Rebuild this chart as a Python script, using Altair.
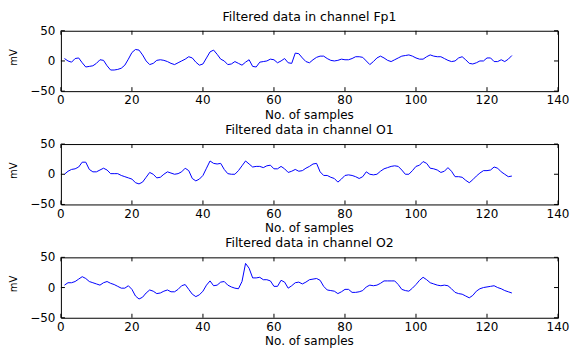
import altair as alt
import pandas as pd

samples = list(range(1, 128))

fp1 = [4, 0, -2, 4, 5, -3, -10, -9, -8, -4, 2, 1, -8, -15, -15, -14, -12, -7, 3, 14,
       19, 18, 10, 0, -6, -4, 1, 2, 1, -1, -4, -6, -3, 0, 3, 7, 5, -2, -7, -5,
       5, 15, 18, 11, 3, 0, -6, -5, -1, -4, -7, -2, 2, -9, -10, -2, -1, 0, 3, 2,
       -3, 0, 4, -3, -4, 13, 12, 5, -1, -3, 2, 6, 8, 8, 4, 1, 0, 1, 3, 2,
       2, 4, 7, 7, 6, 0, -6, -1, 5, 8, 5, 1, -1, 2, 5, 8, 9, 10, 8, 5,
       3, 3, 7, 10, 8, 7, 7, 4, 1, -1, 0, 5, 7, 2, -4, -5, -3, 0, 0, 5,
       5, -1, -1, 2, -1, 3, 9]

o1 = [0, 5, 8, 9, 12, 20, 20, 8, 4, 4, 7, 10, 7, 1, 1, 1, -2, -4, -6, -8,
      -14, -16, -13, -5, 3, 0, -6, -5, 0, 4, 2, 0, 1, 4, 10, 6, -7, -11, -8, -2,
      10, 22, 18, 17, 18, 8, 1, 0, 0, 6, 14, 22, 17, 12, 13, 13, 11, 14, 15, 9,
      9, 13, 9, 3, 5, 8, 5, 6, 10, 13, 17, 18, 4, -2, -2, -5, -7, -13, -8, -2,
      -1, -2, -4, -7, -4, 4, 0, -1, 0, 5, 9, 11, 13, 14, 13, 7, 0, 0, 6, 13,
      15, 21, 18, 10, 9, 7, 3, 5, 11, 5, -4, -4, -5, -10, -14, -9, -3, 2, 6, 6,
      7, 12, 10, 4, 0, -4, -3]

o2 = [4, 8, 8, 10, 14, 18, 15, 10, 8, 6, 4, 8, 10, 7, 5, 2, -1, -1, 3, -3,
      -14, -19, -16, -9, -4, -6, -10, -9, -6, -4, -7, -7, -3, 3, 5, -3, -11, -15, -12, -6,
      4, 11, 3, 4, 9, 10, 4, 1, -1, -2, 10, 40, 32, 16, 16, 17, 13, 13, 11, 2,
      2, 12, 9, -1, 3, 8, 9, 6, 9, 13, 14, 15, 12, 2, -4, -5, -6, -10, -7, -3,
      -3, -8, -8, -7, -5, 1, 4, 3, 4, 7, 11, 11, 11, 11, 5, -3, -5, -6, -1, 5,
      12, 17, 13, 8, 6, 4, 3, 4, 3, -2, -8, -10, -11, -14, -17, -13, -6, -2, 0, 1,
      2, 3, 0, -2, -5, -7, -9]

channels = ["Fp1", "O1", "O2"]
x_ticks = [0, 20, 40, 60, 80, 100, 120, 140]
x_tick_labels = ["0", "20", "40", "60", "80", "100", "120", "140"]
y_ticks = [-50, 0, 50]
y_tick_labels = ["\u221250", "0", "50"]
x_title = "No. of samples"
y_title = "mV"

W, H = 498, 60.5
FONT = "DejaVu Sans"
TL = 4


def panel(name, values):
    df = pd.DataFrame({"n": samples, "v": values})
    xs = alt.Scale(domain=[0, 140], nice=False, zero=False)
    ys = alt.Scale(domain=[-50, 50], nice=False)
    X = lambda: alt.X("n:Q", scale=xs, axis=None)
    Y = lambda: alt.Y("v:Q", scale=ys, axis=None)

    line = alt.Chart(df).mark_line(color="#0000ff", strokeWidth=1).encode(x=X(), y=Y())

    tx = pd.DataFrame({"n": x_ticks, "lab": x_tick_labels})
    ty = pd.DataFrame({"v": y_ticks, "lab": y_tick_labels})
    rule = dict(color="black", strokeWidth=1)
    bottom = alt.Chart(tx).mark_rule(**rule).encode(x=X(), y=alt.value(H), y2=alt.value(H - TL))
    top = alt.Chart(tx).mark_rule(**rule).encode(x=X(), y=alt.value(0), y2=alt.value(TL))
    left = alt.Chart(ty).mark_rule(**rule).encode(y=Y(), x=alt.value(0), x2=alt.value(TL))
    right = alt.Chart(ty).mark_rule(**rule).encode(y=Y(), x=alt.value(W), x2=alt.value(W - TL))

    xlab = alt.Chart(tx).mark_text(font=FONT, fontSize=12, color="black", align="center",
                                   baseline="alphabetic").encode(
        x=X(), y=alt.value(H + 13.3), text="lab:N")
    ylab = alt.Chart(ty).mark_text(font=FONT, fontSize=12, color="black", align="right",
                                   baseline="middle").encode(
        y=Y(), x=alt.value(-5.5), text="lab:N")

    ttl = alt.Chart(pd.DataFrame({"t": [f"Filtered data in channel {name}"]})).mark_text(
        font=FONT, fontSize=12.5, color="black", align="center", baseline="alphabetic").encode(
        x=alt.value(W / 2), y=alt.value(-10), text="t:N")
    xt = alt.Chart(pd.DataFrame({"t": [x_title]})).mark_text(
        font=FONT, fontSize=12, color="black", align="center", baseline="alphabetic").encode(
        x=alt.value(W / 2), y=alt.value(H + 27.5), text="t:N")
    yt = alt.Chart(pd.DataFrame({"t": [y_title]})).mark_text(
        font=FONT, fontSize=10, color="black", align="center", baseline="alphabetic",
        angle=270).encode(
        x=alt.value(-43.7), y=alt.value(H / 2 - 3.5), text="t:N")

    return alt.layer(line, bottom, top, left, right, xlab, ylab, ttl, xt, yt).properties(
        width=W, height=H)


chart = alt.vconcat(
    panel(channels[0], fp1),
    panel(channels[1], o1),
    panel(channels[2], o2),
    spacing=52.5, bounds="flush",
).properties(
    padding={"left": 0, "top": 1.5, "right": 0, "bottom": 0},
    background="white",
).configure_view(stroke="black", strokeWidth=1)

chart.save("out.html", embed_options={"renderer": "svg", "actions": False})
